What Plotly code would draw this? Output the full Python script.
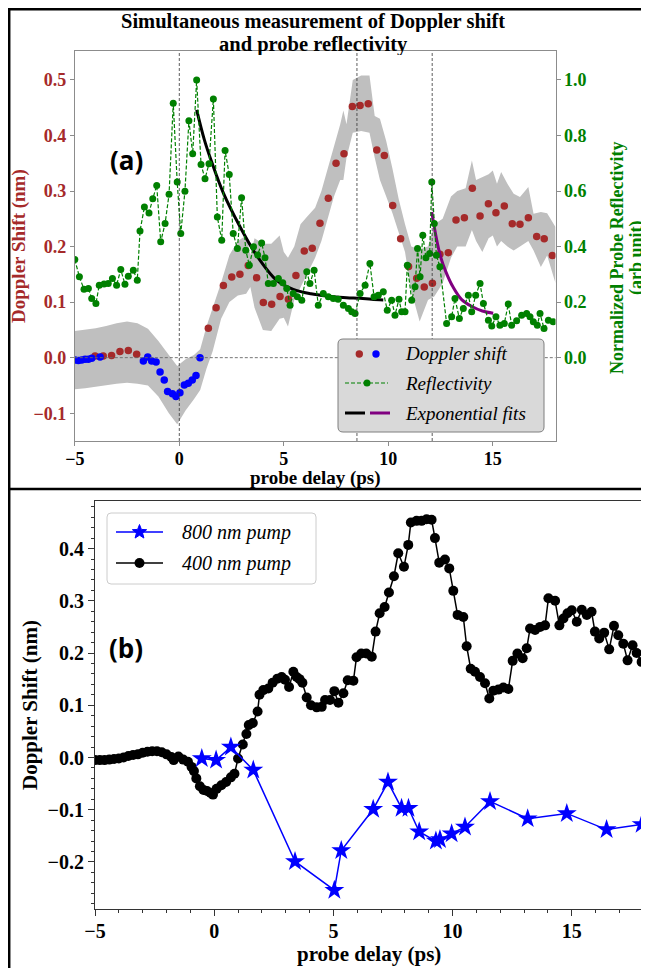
import math
import plotly.graph_objects as go

# page is shown with an 8px body margin; the figure is sized so the page does not scroll
OFF = 8
FW, FH = 641, 960

# ---------------- Panel (a) data ----------------
blue_t = [-4.99, -4.83, -4.67, -4.51, -4.35, -4.19, -3.79,
          -1.72, -1.51, -1.32, -1.11, -0.92, -0.72, -0.56, -0.33, -0.16, 0.03, 0.24, 0.43, 0.62, 0.80, 0.99]
blue_v = [-0.004, -0.005, -0.004, -0.003, -0.003, -0.001, 0.001,
          -0.006, 0.001, -0.006, -0.008, -0.026, -0.040, -0.061, -0.065, -0.070, -0.063, -0.049, -0.046, -0.040, -0.032, 0.000]

red_t = [-4.03, -3.64, -3.24, -2.84, -2.44, -2.04,
         1.39, 1.76, 2.11, 2.51, 2.90, 3.30, 3.70, 4.02, 4.42, 4.82, 5.22, 5.58, 5.98, 6.36, 6.73, 7.13,
         7.50, 7.88, 8.28, 8.65, 9.04, 9.45, 9.81, 10.21, 10.59, 10.97, 11.36, 11.72, 12.11, 12.47, 12.87,
         13.24, 13.64, 14.02, 14.39, 14.79, 15.15, 15.55, 15.93, 16.30, 16.70, 17.10, 17.46, 17.85]
red_v = [0.003, 0.003, 0.004, 0.011, 0.013, 0.006,
         0.053, 0.090, 0.130, 0.145, 0.150, 0.166, 0.144, 0.0995, 0.096, 0.110, 0.105, 0.148, 0.192, 0.197, 0.242, 0.287,
         0.350, 0.367, 0.452, 0.454, 0.457, 0.374, 0.364, 0.274, 0.214, 0.164, 0.143, 0.127, 0.134, 0.186, 0.189,
         0.248, 0.252, 0.305, 0.255, 0.277, 0.261, 0.273, 0.241, 0.240, 0.252, 0.218, 0.214, 0.184]

band_t = [-5, -4.5, -4, -3.5, -3, -2.5, -2, -1.5, -1, -0.5, -0.1, 0.3, 0.7, 1.0, 1.3, 1.6, 2.0, 2.4, 2.8, 3.2,
          3.4, 3.6, 4.0, 4.4, 4.8, 5.0, 5.2, 5.5, 5.8, 6.1, 6.5, 6.8, 7.1, 7.4, 7.7, 7.85, 8.0, 8.3, 8.7, 9.1,
          9.35, 9.6, 9.9, 10.2, 10.5, 10.8, 11.1, 11.5, 11.9, 12.2, 12.6, 13.0, 13.3, 13.7, 14.0, 14.2, 14.5,
          14.8, 15.0, 15.2, 15.4, 15.7, 16.0, 16.3, 16.7, 16.95, 17.3, 17.6, 18.0]
band_hi = [0.048, 0.050, 0.053, 0.057, 0.062, 0.065, 0.062, 0.052, 0.030, 0.005, -0.015, -0.003, 0.005, 0.015,
           0.056, 0.090, 0.135, 0.185, 0.210, 0.220, 0.185, 0.215, 0.205, 0.205, 0.220, 0.190, 0.180, 0.200,
           0.240, 0.253, 0.270, 0.300, 0.340, 0.380, 0.420, 0.445, 0.420, 0.500, 0.508, 0.508, 0.435, 0.430,
           0.390, 0.340, 0.285, 0.240, 0.200, 0.195, 0.200, 0.240, 0.250, 0.290, 0.300, 0.305, 0.355, 0.320,
           0.325, 0.330, 0.337, 0.313, 0.334, 0.313, 0.295, 0.289, 0.307, 0.259, 0.262, 0.260, 0.235]
band_lo = [-0.057, -0.055, -0.053, -0.050, -0.047, -0.045, -0.047, -0.050, -0.070, -0.100, -0.120, -0.095,
           -0.075, -0.058, -0.020, 0.012, 0.070, 0.100, 0.112, 0.115, 0.127, 0.090, 0.050, 0.048, 0.070, 0.072,
           0.056, 0.104, 0.127, 0.150, 0.180, 0.210, 0.250, 0.290, 0.320, 0.320, 0.360, 0.405, 0.408, 0.405,
           0.360, 0.320, 0.290, 0.260, 0.225, 0.190, 0.120, 0.065, 0.104, 0.110, 0.134, 0.180, 0.200, 0.200,
           0.230, 0.210, 0.190, 0.215, 0.220, 0.200, 0.210, 0.200, 0.193, 0.200, 0.210, 0.193, 0.163, 0.184, 0.134]

refl_t = [-5.0, -4.78, -4.56, -4.35, -4.19, -3.99, -3.83, -3.60, -3.40, -3.20, -3.00, -2.80, -2.60, -2.44,
          -2.20, -2.01, -1.88, -1.67, -1.45, -1.27, -1.08, -0.89, -0.68, -0.49, -0.29, -0.10, 0.07, 0.27, 0.46,
          0.64, 0.83, 1.04, 1.23, 1.42, 1.63, 1.82, 2.03, 2.19, 2.39, 2.58, 2.78, 2.98, 3.18, 3.35, 3.55, 3.75,
          3.94, 4.10, 4.26, 4.50, 4.74, 4.95, 5.14, 5.30, 5.45, 5.65, 5.86, 6.10, 6.25, 6.45, 6.65, 6.89, 7.13,
          7.37, 7.60, 7.85, 8.09, 8.25, 8.41, 8.65, 8.89, 9.12, 9.32, 9.52, 9.76, 9.95, 10.16, 10.32, 10.51,
          10.64, 10.80, 10.91, 11.12, 11.28, 11.40, 11.52, 11.65, 11.80, 11.98, 12.08, 12.20, 12.30, 12.47,
          12.79, 13.03, 13.19, 13.40, 13.59, 13.83, 13.99, 14.18, 14.39, 14.55, 14.79, 14.95, 15.15, 15.34,
          15.55, 15.74, 15.90, 16.14, 16.38, 16.62, 16.78, 16.94, 17.13, 17.26, 17.45, 17.66, 17.89]
refl_v = [0.353, 0.291, 0.246, 0.249, 0.213, 0.195, 0.261, 0.265, 0.267, 0.285, 0.261, 0.317, 0.264, 0.293,
          0.315, 0.279, 0.456, 0.542, 0.521, 0.572, 0.620, 0.417, 0.483, 0.588, 0.916, 0.632, 0.447, 0.599, 0.853,
          0.734, 1.000, 0.695, 0.644, 0.698, 0.931, 0.506, 0.423, 0.746, 0.659, 0.447, 0.393, 0.576, 0.387, 0.333,
          0.399, 0.370, 0.413, 0.360, 0.267, 0.267, 0.285, 0.270, 0.249, 0.189, 0.231, 0.219, 0.207, 0.309, 0.267,
          0.315, 0.189, 0.231, 0.219, 0.213, 0.210, 0.189, 0.177, 0.165, 0.159, 0.231, 0.261, 0.339, 0.219, 0.225,
          0.237, 0.171, 0.207, 0.153, 0.210, 0.165, 0.165, 0.333, 0.207, 0.255, 0.393, 0.291, 0.441, 0.360, 0.375,
          0.632, 0.483, 0.369, 0.327, 0.123, 0.147, 0.213, 0.141, 0.177, 0.225, 0.165, 0.225, 0.267, 0.195, 0.135,
          0.114, 0.147, 0.117, 0.123, 0.193, 0.117, 0.133, 0.153, 0.159, 0.147, 0.129, 0.117, 0.159, 0.105, 0.135,
          0.129]

fit1_t = [0.83, 1.2, 1.55, 2.1, 2.9, 3.7, 4.66, 5.45, 6.3, 7.05, 8.0, 8.65, 9.2, 9.76]
fit1_v = [0.446, 0.392, 0.352, 0.297, 0.236, 0.184, 0.139, 0.123, 0.115, 0.111, 0.108, 0.107, 0.105, 0.104]
fit2_t = [12.08, 12.3, 12.5, 12.75, 13.1, 13.5, 14.0, 14.5, 15.02]
fit2_v = [0.262, 0.215, 0.182, 0.155, 0.127, 0.105, 0.092, 0.084, 0.080]

vlines_t = [0, 8.5, 12.1]

# ---------------- Panel (b) data ----------------
p400_t = [-5.0, -4.8, -4.6, -4.4, -4.2, -4.0, -3.8, -3.6, -3.4, -3.2, -3.0, -2.8, -2.6, -2.4, -2.2, -2.0, -1.8,
          -1.7, -1.5, -1.3, -1.1, -0.95, -0.85, -0.75, -0.6, -0.45, -0.3, -0.15, -0.05, 0.1, 0.3, 0.5, 0.7, 0.85,
          1.0, 1.2, 1.35, 1.45, 1.62, 1.82, 1.9, 2.06, 2.27, 2.45, 2.65, 2.83, 2.97, 3.14, 3.32, 3.46, 3.58, 3.70,
          3.88, 4.06, 4.3, 4.51, 4.65, 4.86, 5.04, 5.21, 5.42, 5.6, 5.84, 5.97, 6.17, 6.38, 6.61, 6.77, 6.94,
          7.15, 7.33, 7.54, 7.72, 7.96, 8.14, 8.25, 8.49, 8.70, 8.91, 9.12, 9.26, 9.44, 9.68, 9.86, 10.03, 10.21,
          10.45, 10.59, 10.76, 10.94, 11.15, 11.36, 11.54, 11.71, 11.92, 12.13, 12.34, 12.52, 12.72, 12.94, 13.11,
          13.25, 13.46, 13.67, 13.88, 14.02, 14.30, 14.48, 14.65, 14.82, 15.0, 15.21, 15.42, 15.63, 15.83, 15.97,
          16.15, 16.36, 16.57, 16.77, 16.95, 17.16, 17.34, 17.55, 17.72, 17.93]
p400_v = [-0.005, -0.005, -0.005, -0.004, -0.003, -0.002, 0.000, 0.003, 0.005, 0.006, 0.009, 0.011, 0.012,
          0.012, 0.010, 0.006, 0.001, -0.005, 0.002, -0.004, -0.008, -0.018, -0.026, -0.040, -0.055, -0.062,
          -0.064, -0.068, -0.071, -0.060, -0.053, -0.047, -0.038, -0.031, -0.002, 0.025, 0.045, 0.062, 0.066,
          0.088, 0.120, 0.129, 0.132, 0.143, 0.151, 0.154, 0.149, 0.135, 0.164, 0.154, 0.150, 0.143, 0.115, 0.100,
          0.096, 0.097, 0.110, 0.110, 0.127, 0.105, 0.123, 0.148, 0.147, 0.192, 0.199, 0.199, 0.193, 0.241, 0.276,
          0.288, 0.316, 0.347, 0.391, 0.365, 0.407, 0.450, 0.453, 0.453, 0.456, 0.455, 0.420, 0.373, 0.379, 0.362,
          0.319, 0.273, 0.269, 0.213, 0.170, 0.164, 0.154, 0.142, 0.113, 0.128, 0.130, 0.134, 0.131, 0.185, 0.199,
          0.190, 0.209, 0.247, 0.244, 0.250, 0.253, 0.305, 0.300, 0.253, 0.266, 0.276, 0.282, 0.260, 0.283, 0.273,
          0.279, 0.241, 0.228, 0.239, 0.207, 0.252, 0.234, 0.218, 0.186, 0.215, 0.200, 0.183]

p800_t = [-0.52, 0.08, 0.70, 1.64, 3.39, 5.04, 5.33, 6.67, 7.29, 7.86, 8.15, 8.60, 9.30, 9.47, 9.96, 10.52,
          11.57, 13.15, 14.79, 16.46, 17.93]
p800_v = [-0.002, -0.005, 0.020, -0.024, -0.199, -0.254, -0.178, -0.099, -0.047, -0.097, -0.097, -0.142, -0.160,
          -0.157, -0.146, -0.133, -0.084, -0.117, -0.107, -0.138, -0.128]

x_ticks = [-5, 0, 5, 10, 15]
ya_ticks = [-0.1, 0.0, 0.1, 0.2, 0.3, 0.4, 0.5]
yr_ticks = [0.0, 0.2, 0.4, 0.6, 0.8, 1.0]
yb_ticks = [-0.2, -0.1, 0.0, 0.1, 0.2, 0.3, 0.4]

BROWN = "#a52a2a"
GREEN = "#008000"
BLUE = "#0000ff"
PURPLE = "#800080"
SERIF = "Liberation Serif"


def px(x):
    """page pixel x -> paper fraction"""
    return (x - OFF) / FW


def py(y):
    """page pixel y -> paper fraction"""
    return 1 - (y - OFF) / FH


fig = go.Figure()

# ----- panel (a) traces -----
fig.add_trace(go.Scatter(x=band_t + band_t[::-1], y=band_hi + band_lo[::-1], fill="toself",
                         fillcolor="#bfbfbf", line=dict(width=0), mode="lines", hoverinfo="skip",
                         showlegend=False, xaxis="x", yaxis="y"))
fig.add_trace(go.Scatter(x=red_t, y=red_v, mode="markers", marker=dict(color=BROWN, size=7.5),
                         showlegend=False, xaxis="x", yaxis="y"))
fig.add_trace(go.Scatter(x=blue_t, y=blue_v, mode="markers", marker=dict(color=BLUE, size=7.5),
                         showlegend=False, xaxis="x", yaxis="y"))
fig.add_trace(go.Scatter(x=refl_t, y=refl_v, mode="lines+markers",
                         line=dict(color=GREEN, width=1.2, dash="4px,2px"),
                         marker=dict(color=GREEN, size=7), showlegend=False, xaxis="x", yaxis="y2"))
fig.add_trace(go.Scatter(x=fit1_t, y=fit1_v, mode="lines", line=dict(color="black", width=3, shape="spline"),
                         showlegend=False, xaxis="x", yaxis="y"))
fig.add_trace(go.Scatter(x=fit2_t, y=fit2_v, mode="lines", line=dict(color=PURPLE, width=3, shape="spline"),
                         showlegend=False, xaxis="x", yaxis="y"))

# ----- panel (b) traces -----
fig.add_trace(go.Scatter(x=p400_t, y=p400_v, mode="lines+markers", name="400 nm pump",
                         line=dict(color="black", width=1.5), marker=dict(color="black", size=10),
                         showlegend=False, xaxis="x3", yaxis="y3"))
fig.add_trace(go.Scatter(x=p800_t, y=p800_v, mode="lines+markers", name="800 nm pump",
                         line=dict(color=BLUE, width=1.5),
                         marker=dict(color=BLUE, size=15, symbol="star"),
                         showlegend=False, xaxis="x3", yaxis="y3"))

tick_font_a = dict(family=SERIF, size=18, weight="bold")
tick_font_b = dict(family=SERIF, size=20, weight="bold")

common = dict(showgrid=False, zeroline=False, showline=True, automargin=False)

fig.update_layout(
    width=FW, height=FH, margin=dict(l=0, r=0, t=0, b=0, autoexpand=False),
    paper_bgcolor="white", plot_bgcolor="white", showlegend=False,
    xaxis=dict(common, domain=[px(74.8), px(555.5)], range=[-5, 18], anchor="y", tickvals=x_ticks,
               mirror=True, linecolor="#8c8c8c", linewidth=1, ticks="outside", ticklen=4,
               tickcolor="#8c8c8c", ticklabelstandoff=-3, tickfont=dict(tick_font_a, color="black")),
    yaxis=dict(common, domain=[py(441), py(51)], range=[-0.15, 0.552], anchor="x", tickvals=ya_ticks,
               tickformat=".1f", mirror=False, linecolor="#8c8c8c", linewidth=1, ticks="outside",
               ticklen=4, tickcolor="#8c8c8c", tickfont=dict(tick_font_a, color=BROWN)),
    yaxis2=dict(common, overlaying="y", side="right", anchor="x", range=[-0.3, 1.104], tickvals=yr_ticks,
                tickformat=".1f", linecolor="#8c8c8c", linewidth=1, ticks="outside", ticklen=4,
                tickcolor="#8c8c8c", tickfont=dict(tick_font_a, color=GREEN)),
    xaxis3=dict(common, domain=[px(95), px(643.3)], range=[-5, 18], anchor="y3", tickvals=x_ticks,
                mirror=True, linecolor="#333333", linewidth=1.2, ticks="outside", ticklen=6,
                tickcolor="#333333", ticklabelstandoff=-2,
                minor=dict(dtick=1, ticks="outside", ticklen=3, tickcolor="#333333", showgrid=False),
                tickfont=dict(tick_font_b, color="black")),
    yaxis3=dict(common, domain=[py(909), py(500.7)], range=[-0.29, 0.4916], anchor="x3", tickvals=yb_ticks,
                tickformat=".1f", mirror=True, linecolor="#333333", linewidth=1.2, ticks="outside",
                ticklen=6, tickcolor="#333333",
                minor=dict(dtick=0.02, tick0=0, ticks="outside", ticklen=3, tickcolor="#333333",
                           showgrid=False),
                tickfont=dict(tick_font_b, color="black")),
)

shapes = []
# reference lines panel (a)
for tv in vlines_t:
    shapes.append(dict(type="line", xref="x", yref="paper", x0=tv, x1=tv, y0=py(441), y1=py(51),
                       line=dict(color="#333333", width=0.8, dash="3px,2px"), layer="above"))
shapes.append(dict(type="line", xref="paper", yref="y", x0=px(74.8), x1=px(555.5), y0=0, y1=0,
                   line=dict(color="#666666", width=0.9, dash="3px,2px"), layer="above"))


def rounded_box(x0, y0, x1, y1, r):
    return (f"M {px(x0 + r)} {py(y0)} L {px(x1 - r)} {py(y0)} Q {px(x1)} {py(y0)} {px(x1)} {py(y0 + r)} "
            f"L {px(x1)} {py(y1 - r)} Q {px(x1)} {py(y1)} {px(x1 - r)} {py(y1)} "
            f"L {px(x0 + r)} {py(y1)} Q {px(x0)} {py(y1)} {px(x0)} {py(y1 - r)} "
            f"L {px(x0)} {py(y0 + r)} Q {px(x0)} {py(y0)} {px(x0 + r)} {py(y0)} Z")


def dot(cx, cy, rr, color):
    return dict(type="circle", xref="paper", yref="paper", x0=px(cx - rr), x1=px(cx + rr),
                y0=py(cy + rr), y1=py(cy - rr), fillcolor=color, line=dict(width=0), layer="above")


def seg(x0, x1, y, color, width, dash="solid"):
    return dict(type="line", xref="paper", yref="paper", x0=px(x0), x1=px(x1), y0=py(y), y1=py(y),
                line=dict(color=color, width=width, dash=dash), layer="above")


def star(cx, cy, ro, ri, color):
    pts = []
    for k in range(10):
        ang = math.pi / 2 + k * math.pi / 5
        rr = ro if k % 2 == 0 else ri
        pts.append((cx + rr * math.cos(ang), cy - rr * math.sin(ang)))
    p = "M " + " L ".join(f"{px(a)} {py(b)}" for a, b in pts) + " Z"
    return dict(type="path", xref="paper", yref="paper", path=p, fillcolor=color,
                line=dict(color=color, width=1), layer="above")


# legend panel (a)
shapes.append(dict(type="path", xref="paper", yref="paper", path=rounded_box(338, 339, 544, 432, 5),
                   fillcolor="#d9d9d9", line=dict(color="#7f7f7f", width=1), layer="above"))
shapes.append(dot(359.3, 354, 3.7, BROWN))
shapes.append(dot(376, 354, 3.7, BLUE))
shapes.append(seg(345, 388, 383, GREEN, 1.2, "4px,2px"))
shapes.append(dot(367, 383, 3.5, GREEN))
shapes.append(seg(345, 365, 413, "black", 3))
shapes.append(seg(370, 390, 413, PURPLE, 3))

# legend panel (b)
shapes.append(dict(type="path", xref="paper", yref="paper", path=rounded_box(107, 513, 316, 584, 4),
                   fillcolor="white", line=dict(color="#cccccc", width=1), layer="above"))
shapes.append(seg(116, 163, 532, BLUE, 1.5))
shapes.append(star(139.5, 532, 7.5, 3.2, BLUE))
shapes.append(seg(116, 163, 563, "black", 1.5))
shapes.append(dot(139.5, 563, 5, "black"))

# outer frame
shapes.append(dict(type="line", xref="paper", yref="paper", x0=0, x1=1, y0=py(9.2), y1=py(9.2),
                   line=dict(color="black", width=2.5)))
shapes.append(dict(type="line", xref="paper", yref="paper", x0=px(9.2), x1=px(9.2), y0=1, y1=0,
                   line=dict(color="black", width=2.5)))
shapes.append(dict(type="line", xref="paper", yref="paper", x0=px(9.2), x1=1, y0=py(489), y1=py(489),
                   line=dict(color="black", width=2.5)))
fig.update_layout(shapes=shapes)

ann = []


def text(t, x, y, size, color="black", angle=0, family=SERIF, xanchor="center", style="normal",
         yanchor="middle", height=None):
    a = dict(text=t, x=px(x), y=py(y), xref="paper", yref="paper", showarrow=False,
             textangle=angle, xanchor=xanchor, yanchor=yanchor, borderpad=0,
             font=dict(family=family, size=size, color=color, style=style))
    if height is not None:
        a["height"] = height
    ann.append(a)


text("<b>Simultaneous measurement of Doppler shift</b>", 313, 20.5, 20.5, height=22)
text("<b>and probe reflectivity</b>", 313, 44, 20.5, height=22)
text("<b>probe delay (ps)</b>", 315, 478, 19)
text("<b>Doppler Shift (nm)</b>", 19, 246, 19, BROWN, -90)
text("<b>Normalized Probe Reflectivity</b>", 617, 258, 18, GREEN, -90)
text("<b>(arb unit)</b>", 636, 258, 18, GREEN, -90)
text("<b>(a)</b>", 126, 160, 26, family="Open Sans")
for lbl, yy in [("Doppler shift", 354), ("Reflectivity", 383), ("Exponential fits", 413)]:
    text(lbl, 404, yy, 19, xanchor="left", style="italic")
# panel (b)
text("<b>probe delay (ps)</b>", 369, 954, 21)
text("<b>Doppler Shift (nm)</b>", 30, 705, 21, angle=-90)
text("<b>(b)</b>", 126, 648, 26, family="Open Sans")
text("800 nm pump", 181, 532, 20, xanchor="left", style="italic")
text("400 nm pump", 181, 563, 20, xanchor="left", style="italic")
fig.update_layout(annotations=ann)

fig.write_html("out.html")
